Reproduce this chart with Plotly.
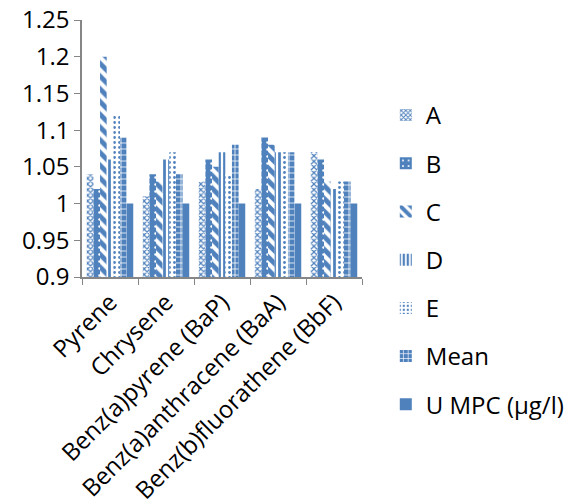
import plotly.graph_objects as go

# PAH compounds and measured ratios per sample
compounds = ["Pyrene", "Chrysene", "Benz(a)pyrene (BaP)",
             "Benz(a)anthracene (BaA)", "Benz(b)fluorathene (BbF)"]
series_names = ["A", "B", "C", "D", "E", "Mean", "U MPC (µg/l)"]
val_a = [1.04, 1.01, 1.03, 1.02, 1.07]
val_b = [1.02, 1.04, 1.06, 1.09, 1.06]
val_c = [1.20, 1.03, 1.05, 1.08, 1.03]
val_d = [1.06, 1.06, 1.07, 1.07, 1.02]
val_e = [1.12, 1.07, 1.04, 1.07, 1.03]
val_mean = [1.09, 1.04, 1.08, 1.07, 1.03]
val_umpc = [1.00, 1.00, 1.00, 1.00, 1.00]
y_ticks = [0.9, 0.95, 1.0, 1.05, 1.1, 1.15, 1.2, 1.25]
y_tick_text = ["0.9", "0.95", "1", "1.05", "1.1", "1.15", "1.2", "1.25"]

BLUE = "#4F81BD"
WHITE = "#FFFFFF"

patterns = [
    dict(shape="x", fgcolor=BLUE, bgcolor=WHITE, size=4, solidity=0.5, fgopacity=1),
    dict(shape=".", fgcolor=WHITE, bgcolor=BLUE, size=7, solidity=0.1, fgopacity=1),
    dict(shape="\\", fgcolor=BLUE, bgcolor=WHITE, size=9, solidity=0.55, fgopacity=1),
    dict(shape="|", fgcolor=BLUE, bgcolor=WHITE, size=5, solidity=0.55, fgopacity=1),
    dict(shape=".", fgcolor=BLUE, bgcolor=WHITE, size=5, solidity=0.25, fgopacity=1),
    dict(shape="+", fgcolor=WHITE, bgcolor=BLUE, size=6, solidity=0.25, fgopacity=1),
    dict(shape=""),
]
values = [val_a, val_b, val_c, val_d, val_e, val_mean, val_umpc]

FONT = "Open Sans"
FS = 24

fig = go.Figure()
for name, vals, pat in zip(series_names, values, patterns):
    fig.add_trace(go.Bar(
        x=compounds, y=vals, name=name, legendgroup=name,
        marker=dict(color=BLUE, pattern=pat, line=dict(width=0)),
    ))

fig.update_layout(
    width=564, height=499,
    margin=dict(l=82, r=202, t=20, b=222, autoexpand=False),
    paper_bgcolor="white", plot_bgcolor="white",
    barmode="group", bargap=0.17, bargroupgap=0,
    font=dict(family=FONT, size=FS, color="#000000"),
    legend=dict(
        x=1.085, y=0.716, xanchor="left", yanchor="top",
        font=dict(family=FONT, size=FS, color="#000000"),
        tracegroupgap=14, bgcolor="rgba(0,0,0,0)", maxheight=470,
    ),
    showlegend=True,
)
fig.update_xaxes(
    showline=True, linecolor="#868686", linewidth=1.5,
    ticks="outside", ticklen=6, tickcolor="#868686",
    tickson="boundaries", tickangle=-45, showgrid=False, automargin=False,
    tickfont=dict(family=FONT, size=FS, color="#000000"),
)
fig.update_yaxes(
    range=[0.9, 1.25], tickvals=y_ticks, ticktext=y_tick_text,
    showline=True, linecolor="#868686", linewidth=1.5,
    ticks="outside", ticklen=6, tickcolor="#868686",
    showgrid=False, zeroline=False, automargin=False,
    tickfont=dict(family=FONT, size=FS, color="#000000"),
)

fig.write_html("out.html")
